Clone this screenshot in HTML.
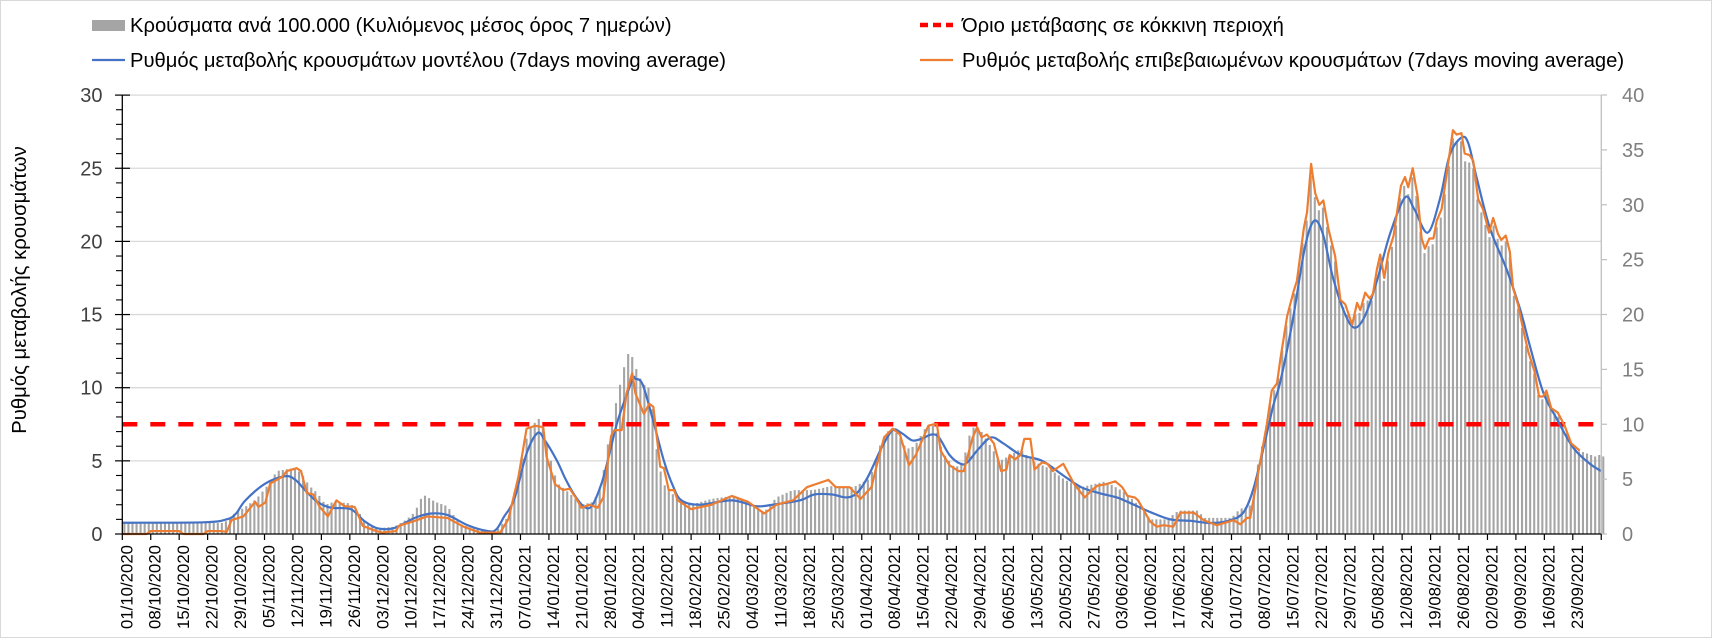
<!DOCTYPE html>
<html><head><meta charset="utf-8">
<style>
html,body{margin:0;padding:0;background:#fff;}
svg{display:block;font-family:"Liberation Sans",sans-serif;}
</style></head>
<body>
<svg id="c" width="1712" height="641" viewBox="0 0 1712 641" xmlns="http://www.w3.org/2000/svg">
<rect x="0.5" y="0.5" width="1711" height="637" fill="#fff" stroke="#d9d9d9"/>
<g id="grid"></g>
<g id="bars" fill="#a5a5a5"></g>
<line x1="122.3" y1="424.3" x2="1601.3" y2="424.3" stroke="#ff0000" stroke-width="4.5" stroke-dasharray="15,13"/>
<path id="blue" fill="none" stroke="#4472c4" stroke-width="2.2" stroke-linejoin="round"/>
<polyline id="orange" fill="none" stroke="#ed7d31" stroke-width="2.2" stroke-linejoin="round"/>
<g id="axes"></g>
<!-- legend -->
<rect x="92" y="20" width="33" height="11" fill="#a5a5a5"/>
<text x="130" y="32" font-size="20.2" fill="#000">Κρούσματα ανά 100.000 (Κυλιόμενος μέσος όρος 7 ημερών)</text>
<line x1="92" y1="60" x2="125" y2="60" stroke="#4472c4" stroke-width="2.2"/>
<text x="130" y="67" font-size="20.2" fill="#000">Ρυθμός μεταβολής κρουσμάτων μοντέλου (7days moving average)</text>
<line x1="920" y1="25" x2="953" y2="25" stroke="#ff0000" stroke-width="4.5" stroke-dasharray="8,5"/>
<text x="962" y="32" font-size="20.2" fill="#000">Όριο μετάβασης σε κόκκινη περιοχή</text>
<line x1="920" y1="60" x2="953" y2="60" stroke="#ed7d31" stroke-width="2.2"/>
<text x="962" y="67" font-size="20.2" fill="#000">Ρυθμός μεταβολής επιβεβαιωμένων κρουσμάτων (7days moving average)</text>
<text transform="translate(26,290) rotate(-90)" text-anchor="middle" font-size="20.3" fill="#000">Ρυθμός μεταβολής κρουσμάτων</text>
</svg>
<script>
(function(){
var NS="http://www.w3.org/2000/svg";
function X(d){return 122.3+d*4.063;}
function Y(v){return 534-v*14.63;}
function el(p,t,a,txt){var e=document.createElementNS(NS,t);for(var k in a)e.setAttribute(k,a[k]);if(txt!==undefined)e.textContent=txt;p.appendChild(e);return e;}
function interp(pts,d){if(d<=pts[0][0])return pts[0][1];for(var i=1;i<pts.length;i++){if(d<=pts[i][0]){var a=pts[i-1],b=pts[i];return a[1]+(b[1]-a[1])*(d-a[0])/(b[0]-a[0]);}}return pts[pts.length-1][1];}
var O=[[0,0],[6,0],[7,0.2],[14,0.2],[15,0],[20,0],[21,0.2],[24,0.2],[25.7,0.15],[26.9,0.95],[29.8,1.2],[32.7,2.2],[33.5,1.85],[35.2,2.15],[36.4,3.45],[38,3.7],[39.3,3.9],[40.5,4.3],[42.9,4.5],[44,4.3],[45.4,2.8],[47,2.7],[48.6,1.85],[50.6,1.2],[52.7,2.3],[54.7,1.9],[57.2,1.85],[59.2,0.55],[62.5,0.2],[64,0.1],[67.4,0.2],[68,0.55],[72,0.9],[75,1.2],[80,1.1],[84,0.5],[88,0.1],[93,0.1],[95,1.0],[97.5,3.9],[99.5,7.2],[101.6,7.4],[103.6,7.3],[104.4,5.3],[106.5,3.4],[108.5,3.0],[110.1,3.1],[111.8,2.4],[113,1.8],[115,2.0],[117,1.8],[118.4,2.5],[120.3,6.7],[121.1,7.1],[122.9,7.1],[124.1,9.6],[125.5,11],[126.3,9.6],[128.4,8.2],[129.7,8.9],[130.7,8.7],[132.4,4.6],[133.3,4.5],[134.5,3],[135.8,3],[136.7,2.3],[140,1.7],[145,2.0],[150,2.6],[154,2.2],[158,1.4],[161,2.0],[165.1,2.3],[168.5,3.2],[173.8,3.7],[175.6,3.2],[177.3,3.2],[179,3.2],[181.7,2.4],[184.4,3.2],[185.6,4.6],[187.5,6.6],[189.6,7.2],[191.4,6.8],[193.6,4.7],[195.3,5.4],[198.4,7.4],[199.7,7.5],[200.5,7.5],[201.4,5.7],[203.6,4.7],[205.8,4.3],[207.1,4.3],[209.3,6.6],[210.4,7.3],[211.5,6.6],[212.8,6.8],[214.5,6.2],[216.3,4.3],[217.6,4.4],[218.4,5.4],[219.7,5.1],[221.1,5.4],[222,6.5],[223.5,6.5],[224.5,4.4],[226.4,4.9],[227.7,4.8],[229,4.3],[231.6,4.8],[234.3,3.4],[236.9,2.5],[238.6,3],[240,3.3],[242.1,3.4],[244.4,3.6],[246.1,3.2],[247.4,2.6],[249.2,2.5],[250,2.3],[253,0.84],[254.6,0.5],[256.3,0.6],[258.7,0.5],[260.4,1.46],[263.7,1.46],[266.2,0.94],[269.4,0.6],[273.5,0.94],[275.2,0.66],[276.8,1.1],[277.6,1.1],[280.1,5.0],[281.7,7.5],[282.9,9.8],[284.2,10.3],[285,11.9],[286.7,14.9],[288.3,16.6],[289.1,17.3],[290.8,20.9],[291.6,22],[292.6,25.3],[293.6,23.3],[294.6,22.5],[295.6,22.8],[296.9,20.8],[298.5,19],[299.8,16],[301,15.7],[302.7,14.3],[303.9,15.8],[304.7,15.3],[305.9,16.5],[307,16.1],[307.8,16.4],[308.8,18.1],[309.6,19.1],[310.6,17.5],[311.6,19.2],[312.9,20.4],[314.7,23.8],[315.7,24.4],[316.5,23.7],[317.6,25],[318.8,23.1],[319.8,20.2],[320.6,19.5],[321.7,20.2],[322.7,20.2],[323.5,21.4],[324.7,22.2],[325.5,23.7],[327.5,27.6],[328.4,27.3],[329.6,27.4],[330.4,26],[331.6,25.9],[332.5,25.5],[333.7,22.9],[334.9,22.2],[336.4,20.6],[337.4,21.6],[338.6,20.5],[339.4,20.1],[340.5,20.4],[341.5,19.3],[342.3,16.8],[343.5,15.7],[344.7,14.1],[346,12.5],[347.6,11.1],[348.7,9.4],[349.7,9.4],[350.5,9.8],[351.7,8.6],[353.3,8.3],[355,7.4],[356.6,6.2],[358.7,5.7]];
var B=[[0,0.77],[20,0.8],[25.7,1.0],[28,1.4],[30.3,2.3],[35.2,3.45],[40.1,3.95],[42.6,3.7],[45,3.0],[48,2.2],[51.3,1.8],[56.2,1.7],[59.5,0.9],[62.7,0.4],[66.8,0.4],[72,1.1],[76,1.4],[80,1.3],[85,0.6],[90,0.2],[92,0.3],[94,1.2],[96.5,2.4],[99.5,5.5],[102.2,6.9],[104,6.4],[107,5],[109,3.8],[111.2,2.7],[113.5,1.9],[115.5,1.9],[118,3.5],[120,5.6],[122,7.8],[125.5,10.5],[126.3,10.6],[128.1,10.2],[130.7,7.7],[133.3,5],[135.5,3.3],[137.6,2.3],[142,2.0],[150,2.3],[156,1.9],[160,2.0],[166.8,2.3],[170.3,2.7],[174.7,2.7],[178.2,2.5],[180.8,2.8],[183.5,3.9],[186.9,5.9],[189.6,7.1],[191.8,6.9],[194.4,6.4],[196.6,6.5],[199.2,6.8],[201,6.6],[203.6,5.4],[206.3,4.8],[208,4.9],[210.7,5.8],[213.8,6.6],[216.8,6.2],[221.2,5.4],[226.4,5],[231.6,4],[236,3.2],[240.4,2.8],[244.8,2.5],[247.4,2.2],[253,1.5],[257.9,1.0],[262.9,0.9],[267.8,0.75],[272.7,0.94],[276,1.5],[278.4,3.1],[280.9,5.9],[283.3,8.8],[285,10.4],[288,14.5],[291,19.5],[293.3,21.4],[295.5,20.5],[298,17.5],[301,15],[303.4,14.1],[306,15],[309,17.5],[312,20.5],[315.7,23],[318,22.2],[321.3,20.6],[324.3,22.9],[326.7,25.9],[329.6,27.1],[331.3,26.7],[333.3,24.4],[336.6,20.9],[340.7,18.1],[344,15.4],[346.4,12.9],[349.7,9.7],[353,7.9],[357.1,5.9],[361.2,4.8],[364,4.3]];
var BR=[[0,0.75],[25,0.75],[26,1.0],[28,1.5],[30,1.8],[33,2.4],[36,3.4],[38,4.3],[42,4.5],[44,4.2],[46,3.3],[48,2.8],[50,2.0],[52,2.2],[56,2.1],[58,1.6],[60,0.7],[63,0.4],[67,0.5],[70,1.0],[72,1.5],[74,2.7],[77,2.2],[80,1.9],[83,0.7],[86,0.4],[92,0.2],[95,1.2],[98,4.5],[100,7.2],[103,8.0],[105,5.5],[107,3.5],[110,2.8],[113,2.0],[116,2.2],[118,3.5],[120,7.0],[122,9.6],[124,12],[125,12.6],[126,11.6],[128,10.3],[130,9.9],[131.5,5.8],[133,3.5],[135,2.8],[140,2.0],[145,2.4],[150,2.6],[155,2.0],[158,1.5],[161,2.5],[165,3.0],[170,3.0],[175,3.3],[180,3.2],[184,3.8],[187,6.5],[189,7.2],[191,6.8],[193,5.8],[195,6.0],[198,7.4],[200,7.4],[202,5.5],[205,4.5],[207,5.0],[209,7.3],[211,7.2],[213,6.3],[216,5.0],[218,5.3],[221,5.8],[224,5.0],[228,4.5],[232,3.7],[236,3.2],[242,3.6],[247,2.8],[250,2.0],[253,1.0],[257,1.0],[260,1.6],[265,1.6],[266,1.1],[273,1.1],[275,1.7],[278,2.0],[279,3.5],[280,6]];
var tail=[5.6,5.5,5.4,5.3,5.4,5.3];
var g=document.getElementById('grid');
for(var v=5;v<=30;v+=5){el(g,'line',{x1:122.3,x2:1601.3,y1:Y(v),y2:Y(v),stroke:'#d9d9d9','stroke-width':1.3});}
var bg=document.getElementById('bars');
for(var d=0;d<365;d++){
 var val;
 if(d<281)val=interp(BR,d+0.5);
 else if(d<=358)val=interp(O,d+0.5)*0.98;
 else val=tail[d-359];
 var x=X(d)+1.0;
 el(bg,'rect',{x:x.toFixed(2),y:Y(val).toFixed(2),width:2.1,height:(534-Y(val)).toFixed(2)});
}
document.getElementById('orange').setAttribute('points',O.map(function(p){return X(p[0]).toFixed(2)+','+Y(p[1]).toFixed(2);}).join(' '));
var P=B.map(function(p){return [X(p[0]),Y(p[1])];});
var s='M'+P[0][0].toFixed(2)+','+P[0][1].toFixed(2);
for(var i=0;i<P.length-1;i++){
 var p0=P[i>0?i-1:i],p1=P[i],p2=P[i+1],p3=P[i+2<P.length?i+2:i+1];
 var c1=[p1[0]+(p2[0]-p0[0])/6,p1[1]+(p2[1]-p0[1])/6];
 var c2=[p2[0]-(p3[0]-p1[0])/6,p2[1]-(p3[1]-p1[1])/6];
 s+=' C'+c1[0].toFixed(2)+','+c1[1].toFixed(2)+' '+c2[0].toFixed(2)+','+c2[1].toFixed(2)+' '+p2[0].toFixed(2)+','+p2[1].toFixed(2);
}
document.getElementById('blue').setAttribute('d',s);
var a=document.getElementById('axes');
el(a,'line',{x1:122.3,x2:122.3,y1:95,y2:534,stroke:'#000','stroke-width':1.3});
el(a,'line',{x1:1601.3,x2:1601.3,y1:95,y2:534,stroke:'#bfbfbf','stroke-width':1.3});
el(a,'line',{x1:122.3,x2:1601.3,y1:534,y2:534,stroke:'#000','stroke-width':1.3});
for(var v=0;v<=30;v++){
 var y=Y(v);
 if(v%5==0){el(a,'line',{x1:115,x2:130,y1:y,y2:y,stroke:'#000','stroke-width':1.2});
   el(a,'text',{x:102.5,y:y+7,'text-anchor':'end','font-size':20,fill:'#404040'},String(v));}
 else el(a,'line',{x1:116,x2:122.3,y1:y,y2:y,stroke:'#000','stroke-width':1.1});
}
for(var r=0;r<=40;r+=5){
 var y=534-r*10.975;
 el(a,'line',{x1:1601.3,x2:1607,y1:y,y2:y,stroke:'#bfbfbf','stroke-width':1.2});
 el(a,'text',{x:1622,y:y+7,'font-size':20,fill:'#7f7f7f'},String(r));
}
var labels=["01/10/2020","08/10/2020","15/10/2020","22/10/2020","29/10/2020","05/11/2020","12/11/2020","19/11/2020","26/11/2020","03/12/2020","10/12/2020","17/12/2020","24/12/2020","31/12/2020","07/01/2021","14/01/2021","21/01/2021","28/01/2021","04/02/2021","11/02/2021","18/02/2021","25/02/2021","04/03/2021","11/03/2021","18/03/2021","25/03/2021","01/04/2021","08/04/2021","15/04/2021","22/04/2021","29/04/2021","06/05/2021","13/05/2021","20/05/2021","27/05/2021","03/06/2021","10/06/2021","17/06/2021","24/06/2021","01/07/2021","08/07/2021","15/07/2021","22/07/2021","29/07/2021","05/08/2021","12/08/2021","19/08/2021","26/08/2021","02/09/2021","09/09/2021","16/09/2021","23/09/2021"];
for(var i=0;i<=52;i++){
 var x=X(i*7);
 el(a,'line',{x1:x,x2:x,y1:534,y2:540,stroke:'#000','stroke-width':1.2});
 if(i<52){el(a,'text',{transform:'translate('+(x+10)+',545) rotate(-90)','text-anchor':'end','font-size':16.8,fill:'#000'},labels[i]);}
}
})();
</script>
</body></html>
